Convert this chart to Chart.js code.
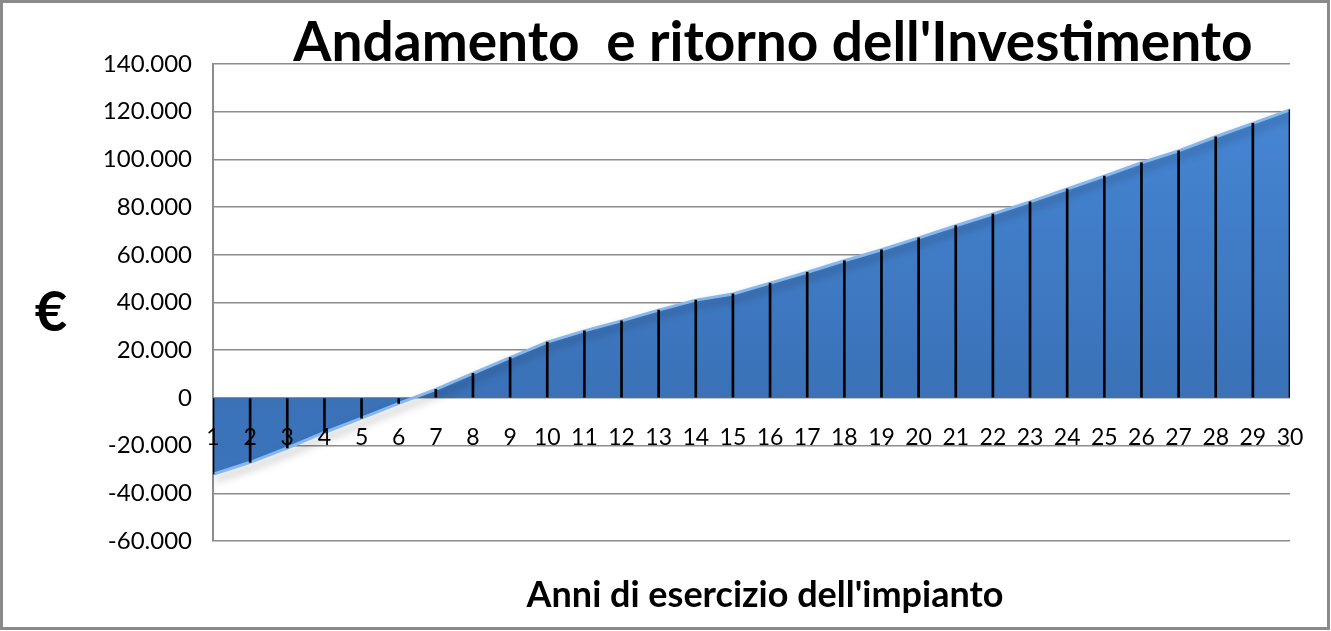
<!DOCTYPE html>
<html>
<head>
<meta charset="utf-8">
<title>Andamento e ritorno dell'Investimento</title>
<script src="https://cdn.jsdelivr.net/npm/chart.js@4.4.1/dist/chart.umd.min.js"></script>
<style>
  html, body { margin: 0; padding: 0; background: #fff; }
  #wrap { width: 1331px; height: 631px; position: relative; }
</style>
</head>
<body>
<div id="wrap"><canvas id="roiChart" width="1331" height="631"></canvas></div>
<script>
const years = ['1','2','3','4','5','6','7','8','9','10','11','12','13','14','15',
  '16','17','18','19','20','21','22','23','24','25','26','27','28','29','30'];

// flusso cumulato in euro
const cumulato = [-32000, -27000, -21000, -14500, -8500, -2300, 3600, 10300, 16900, 23400,
  28100, 32300, 36800, 41000, 43600, 48100, 52700, 57500, 62100, 67100,
  72200, 77100, 82200, 87600, 93000, 98600, 103600, 109500, 115100, 120800];

const yMin = -60000;
const yMax = 140000;
const yStep = 20000;

const chartTitle = "Andamento  e ritorno dell'Investimento";
const xTitle = "Anni di esercizio dell'impianto";
const yTitle = '€';

const fontFam = 'Lato, "Open Sans", sans-serif';

function euro(v) {
  return v.toLocaleString('it-IT').replace(/\s/g, '.');
}

// bordo esterno + titoli
const decorPlugin = {
  id: 'decor',
  beforeDraw(chart) {
    const ctx = chart.ctx;
    ctx.save();
    ctx.fillStyle = '#fff';
    ctx.fillRect(0, 0, chart.width, chart.height);
    ctx.restore();
  },
  afterDraw(chart) {
    const ctx = chart.ctx;
    ctx.save();
    ctx.strokeStyle = '#8a8a8a';
    ctx.lineWidth = 3;
    ctx.strokeRect(1.5, 1.5, chart.width - 4, chart.height - 4);

    ctx.fillStyle = '#000';
    ctx.textAlign = 'center';
    ctx.textBaseline = 'alphabetic';
    ctx.font = 'bold 55px ' + fontFam;
    ctx.fillText(chartTitle, 773, 61);

    ctx.font = 'bold 36px ' + fontFam;
    ctx.fillText(xTitle, 765, 607);

    ctx.font = 'bold 56px ' + fontFam;
    ctx.fillText(yTitle, 51, 331);
    ctx.restore();
  }
};

// ombra sotto l'area
const shadowPlugin = {
  id: 'areaShadow',
  beforeDatasetDraw(chart, args) {
    if (args.meta.type !== 'line') return;
    const ctx = chart.ctx;
    ctx.save();
    ctx.shadowColor = 'rgba(0,0,0,0.35)';
    ctx.shadowBlur = 8;
    ctx.shadowOffsetX = 2;
    ctx.shadowOffsetY = 5;
  },
  afterDatasetDraw(chart, args) {
    if (args.meta.type !== 'line') return;
    chart.ctx.restore();
  }
};

const ctx = document.getElementById('roiChart').getContext('2d');

new Chart(ctx, {
  data: {
    labels: years,
    datasets: [
      {
        type: 'bar',
        label: 'linee',
        data: cumulato,
        backgroundColor: '#000',
        barThickness: 2,
        order: 0
      },
      {
        type: 'line',
        label: 'Investimento',
        data: cumulato,
        fill: 'origin',
        tension: 0,
        pointRadius: 0,
        borderWidth: 3,
        borderColor: '#86b8ee',
        backgroundColor: function (context) {
          const area = context.chart.chartArea;
          if (!area) return '#3f7cc8';
          const g = context.chart.ctx.createLinearGradient(0, area.top, 0, area.bottom);
          g.addColorStop(0, '#4889d8');
          g.addColorStop(0.7, '#3a71b7');
          g.addColorStop(1, '#3d77c2');
          return g;
        },
        order: 1
      }
    ]
  },
  options: {
    responsive: false,
    animation: false,
    layout: { padding: { top: 64, right: 41, bottom: 90, left: 0 } },
    plugins: {
      legend: { display: false },
      tooltip: { enabled: false },
      title: { display: false }
    },
    scales: {
      x: {
        type: 'category',
        position: { y: 0 },
        offset: false,
        grid: { display: false, drawTicks: false },
        border: { display: false },
        ticks: {
          z: 1,
          color: '#000',
          padding: 26,
          maxRotation: 0,
          autoSkip: false,
          font: { family: fontFam, size: 23 }
        }
      },
      y: {
        min: yMin,
        max: yMax,
        afterFit(scale) { scale.width = 213; },
        grid: { color: '#8c8c8c', lineWidth: 1.5, drawTicks: false },
        border: { display: true, color: '#8c8c8c', width: 2 },
        ticks: {
          stepSize: yStep,
          color: '#000',
          padding: 21,
          font: { family: fontFam, size: 24 },
          callback: function (v) { return euro(v); }
        }
      }
    }
  },
  plugins: [decorPlugin, shadowPlugin]
});
</script>
</body>
</html>
